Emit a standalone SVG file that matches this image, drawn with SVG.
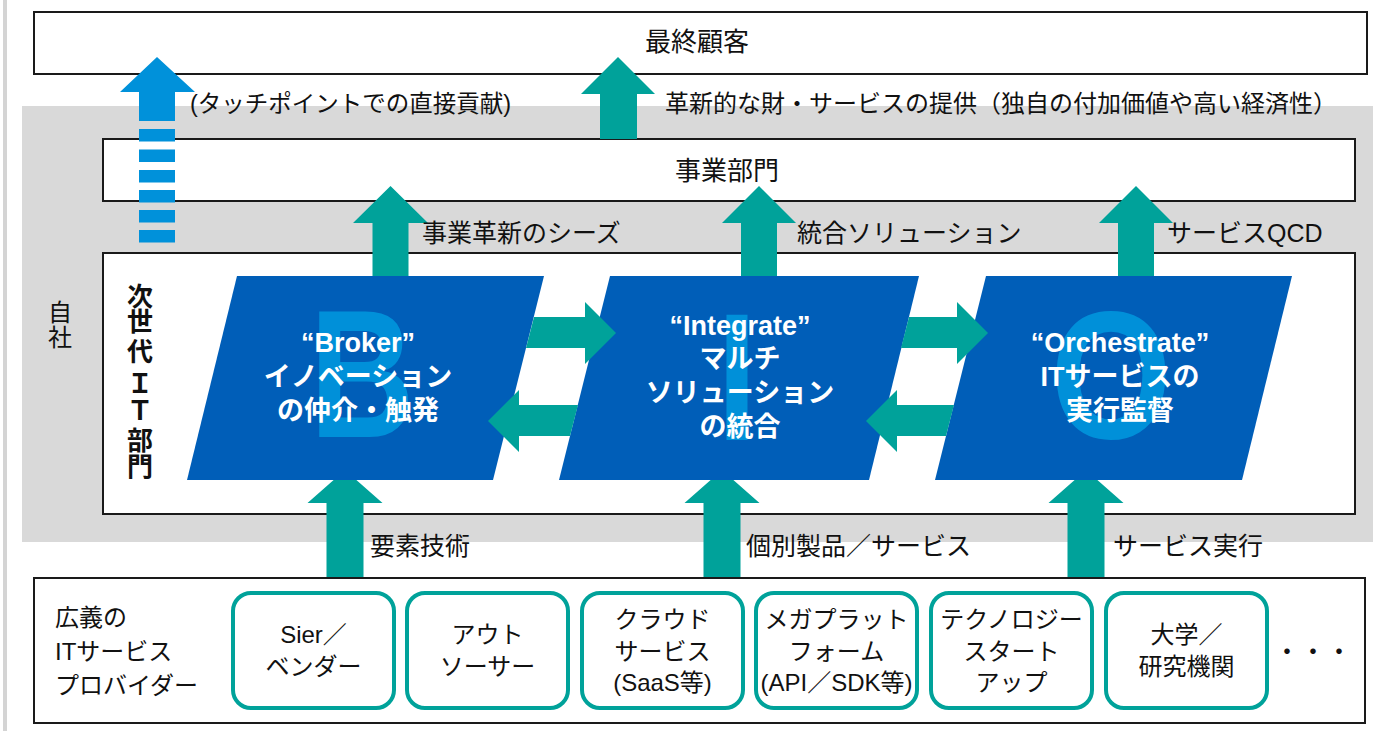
<svg xmlns="http://www.w3.org/2000/svg" width="1373" height="731" viewBox="0 0 1373 731">
<defs>
<style>
.t{font-family:'Liberation Sans','Noto Sans CJK JP',sans-serif;fill:#111;}
.lbl{font-size:25px;}
.box{fill:#fff;stroke:#1a1a1a;stroke-width:2;}
.teal{fill:#00A29A;}
.para{fill:#005EB8;}
.big{font-family:'Liberation Sans','Noto Sans CJK JP',sans-serif;font-weight:bold;font-size:182px;fill:#0090D9;text-anchor:middle;}
.wt{font-family:'Liberation Sans','Noto Sans CJK JP',sans-serif;font-weight:bold;font-size:27px;fill:#fff;text-anchor:middle;}
.rb{fill:#fff;stroke:#00A29A;stroke-width:4;}
.bt{font-family:'Liberation Sans','Noto Sans CJK JP',sans-serif;font-size:24px;fill:#111;text-anchor:middle;}
.blue{fill:#0091DA;}
</style>
</defs>
<rect x="0" y="0" width="1373" height="731" fill="#fff"/>
<rect x="3" y="0" width="4" height="731" fill="#d4d4d4"/>
<g id="own-company">
<rect x="22" y="106" width="1351" height="436" fill="#D9D9D9"/>
<text class="t" x="60" y="321" font-size="24" text-anchor="middle">自</text>
<text class="t" x="60" y="346" font-size="24" text-anchor="middle">社</text>
</g>
<g id="end-customer">
<rect class="box" x="34" y="12" width="1333" height="62"/>
<text class="t" x="697" y="51" font-size="26" text-anchor="middle">最終顧客</text>
</g>
<g id="business-dept">
<rect class="box" x="103" y="139" width="1252" height="62"/>
<text class="t" x="727" y="180" font-size="26" text-anchor="middle">事業部門</text>
</g>
<g id="nextgen-it">
<rect class="box" x="103" y="253" width="1252" height="261"/>
<g font-weight="bold" font-size="26" text-anchor="middle" class="t">
<text x="140" y="306">次</text>
<text x="140" y="331">世</text>
<text x="140" y="361">代</text>
<text x="140" y="393">Ｉ</text>
<text x="140" y="420">Ｔ</text>
<text x="140" y="450">部</text>
<text x="140" y="476">門</text>
</g>
</g>
<g id="connectors-vertical">
<!-- top arrow to end customer -->
<polygon class="teal" points="618,57 655,94 637,94 637,139 600,139 600,94 581,94"/>
<!-- blue dashed arrow -->
<polygon class="blue" points="157,57 195,92 175,92 175,121 139,121 139,92 120,92"/>
<rect class="blue" x="139" y="129" width="36" height="12.5"/>
<rect class="blue" x="139" y="149.5" width="36" height="12.5"/>
<rect class="blue" x="139" y="170" width="36" height="12.5"/>
<rect class="blue" x="139" y="190" width="36" height="12.5"/>
<rect class="blue" x="139" y="210" width="36" height="12.5"/>
<rect class="blue" x="139" y="230" width="36" height="12.5"/>
<!-- up arrows to business dept -->
<polygon class="teal" points="390.5,186 428,223 408.5,223 408.5,278 372.5,278 372.5,223 353,223"/>
<polygon class="teal" points="759,186 796,223 777,223 777,278 741,278 741,223 722,223"/>
<polygon class="teal" points="1136,186 1173,223 1154,223 1154,278 1118,278 1118,223 1099,223"/>
<!-- up arrows from providers -->
<polygon class="teal" points="345,470 382.5,503 363.5,503 363.5,578 326.5,578 326.5,503 307.5,503"/>
<polygon class="teal" points="722,470 759.5,503 740.5,503 740.5,578 703.5,578 703.5,503 684.5,503"/>
<polygon class="teal" points="1086,470 1123.5,503 1104.5,503 1104.5,578 1067.5,578 1067.5,503 1048.5,503"/>
</g>
<g id="broker">
<polygon class="para" points="237,276 544,276 493,480 187,480"/>
<text class="big" transform="translate(362,437) scale(0.8,1)">B</text>
<text class="wt" x="358" y="352">“Broker”</text>
<text class="wt" x="358" y="386">イノベーション</text>
<text class="wt" x="358" y="420">の仲介・触発</text>
</g>
<g id="integrate">
<polygon class="para" points="610,276 919,276 869,480 559,480"/>
<text class="big" transform="translate(737,440) scale(0.8,1)">I</text>
<text class="wt" x="740" y="335">“Integrate”</text>
<text class="wt" x="740" y="368">マルチ</text>
<text class="wt" x="740" y="402">ソリューション</text>
<text class="wt" x="740" y="436">の統合</text>
</g>
<g id="orchestrate">
<polygon class="para" points="986,276 1292,276 1242,480 935,480"/>
<text class="big" transform="translate(1111,438) scale(0.86,1)">O</text>
<text class="wt" x="1120" y="352">“Orchestrate”</text>
<text class="wt" x="1120" y="386">ITサービスの</text>
<text class="wt" x="1120" y="420">実行監督</text>
</g>
<g id="connectors-horizontal">
<polygon class="teal" points="534,317 585,317 585,302 616,333 585,364 585,348 526,348"/>
<polygon class="teal" points="488,421 519,390 519,405 578,405 570,436 519,436 519,452"/>
<polygon class="teal" points="909,317 957,317 957,302 988,333 957,364 957,348 901,348"/>
<polygon class="teal" points="866,421 897,390 897,405 954,405 946,436 897,436 897,452"/>
</g>
<g id="labels">
<text class="t" x="190" y="112" font-size="23.5">(タッチポイントでの直接貢献)</text>
<text class="t" x="665" y="112" font-size="24">革新的な財・サービスの提供（独自の付加価値や高い経済性）</text>
<text class="t lbl" x="422" y="242">事業革新のシーズ</text>
<text class="t lbl" x="797" y="242">統合ソリューション</text>
<text class="t lbl" x="1167" y="242">サービスQCD</text>
<text class="t lbl" x="370" y="555">要素技術</text>
<text class="t lbl" x="746" y="555">個別製品／サービス</text>
<text class="t lbl" x="1113" y="555">サービス実行</text>
</g>
<g id="providers">
<rect class="box" x="34" y="578" width="1331" height="145"/>
<text class="t" x="55" y="626" font-size="24">広義の</text>
<text class="t" x="55" y="660" font-size="24">ITサービス</text>
<text class="t" x="55" y="694" font-size="24">プロバイダー</text>
</g>
<g id="sier">
<rect class="rb" x="233" y="593" width="161" height="115" rx="18"/>
<text class="bt" x="313.5" y="643">Sier／</text>
<text class="bt" x="313.5" y="675">ベンダー</text>
</g>
<g id="outsourcer">
<rect class="rb" x="407" y="593" width="161" height="115" rx="18"/>
<text class="bt" x="487.5" y="643">アウト</text>
<text class="bt" x="487.5" y="675">ソーサー</text>
</g>
<g id="cloud">
<rect class="rb" x="582" y="593" width="161" height="115" rx="18"/>
<text class="bt" x="662.5" y="628">クラウド</text>
<text class="bt" x="662.5" y="660">サービス</text>
<text class="bt" x="662.5" y="691">(SaaS等)</text>
</g>
<g id="megaplatform">
<rect class="rb" x="756" y="593" width="161" height="115" rx="18"/>
<text class="bt" x="836.5" y="628">メガプラット</text>
<text class="bt" x="836.5" y="660">フォーム</text>
<text class="bt" x="836.5" y="691">(API／SDK等)</text>
</g>
<g id="startup">
<rect class="rb" x="931" y="593" width="161" height="115" rx="18"/>
<text class="bt" x="1011.5" y="628">テクノロジー</text>
<text class="bt" x="1011.5" y="660">スタート</text>
<text class="bt" x="1011.5" y="691">アップ</text>
</g>
<g id="university">
<rect class="rb" x="1106" y="593" width="161" height="115" rx="18"/>
<text class="bt" x="1186.5" y="643">大学／</text>
<text class="bt" x="1186.5" y="675">研究機関</text>
</g>
<g id="more">
<text class="t" x="1313" y="661" font-size="26" text-anchor="middle">・・・</text>
</g>
</svg>
